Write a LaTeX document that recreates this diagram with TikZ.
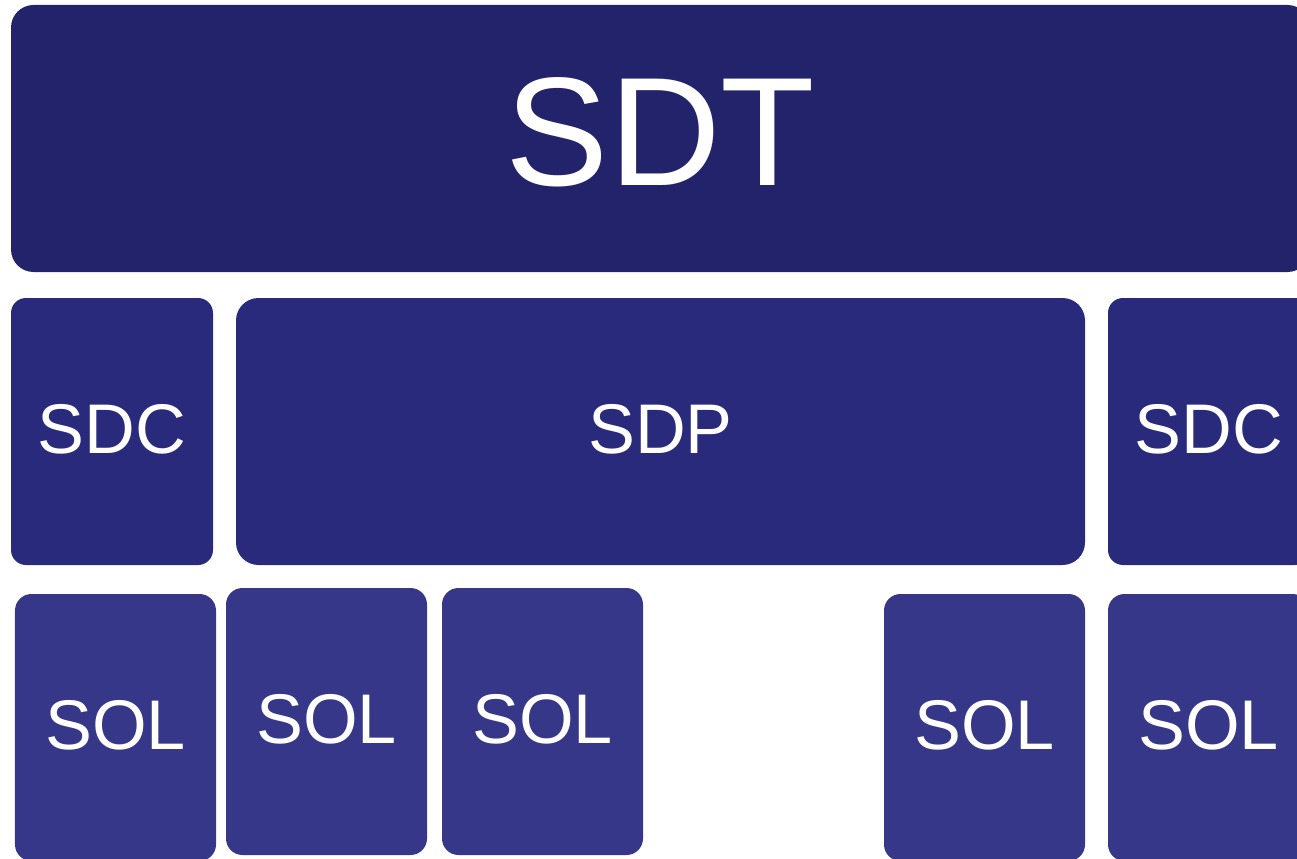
\documentclass[tikz,border=0pt]{standalone}
\usepackage{fontspec}
\setmainfont{Liberation Sans}
\usepackage{tikz}
\definecolor{sdtblue}{HTML}{23236B}
\definecolor{sdpblue}{HTML}{292A7C}
\definecolor{solblue}{HTML}{363789}
\tikzset{
    block/.style={rectangle, draw=none, text=white, inner sep=0pt},
    sdtbox/.style={block, fill=sdtblue, rounded corners=0.45cm, text depth=0.28cm,
                   font=\fontsize{88}{88}\selectfont},
    sdcbox/.style={block, fill=sdpblue, rounded corners=0.3cm, text depth=0.12cm,
                   font=\fontsize{40}{40}\selectfont},
    sdpbox/.style={block, fill=sdpblue, rounded corners=0.45cm, text depth=0.12cm,
                   font=\fontsize{40}{40}\selectfont},
    solbox/.style={block, fill=solblue, rounded corners=0.33cm, text depth=0.12cm,
                   font=\fontsize{40}{40}\selectfont, minimum width=4.02cm, minimum height=5.34cm}
}

\begin{document}
\begin{tikzpicture}
  \useasboundingbox (0,0) rectangle (25.94,17.16);
  \clip (0,0) rectangle (25.94,17.16);
  % top level
  \node [sdtbox, minimum width=25.98cm, minimum height=5.34cm] (sdt) at (13.21,14.39) {SDT};
  % middle level
  \node [sdcbox, minimum width=4.04cm, minimum height=5.34cm] (sdcl) at (2.24,8.53) {SDC};
  \node [sdpbox, minimum width=16.98cm, minimum height=5.34cm] (sdp) at (13.21,8.53) {SDP};
  \node [sdcbox, minimum width=4.04cm, minimum height=5.34cm] (sdcr) at (24.18,8.53) {SDC};
  % bottom level
  \node [solbox] (sol1) at (2.31,2.61) {SOL};
  \node [solbox] (sol2) at (6.53,2.73) {SOL};
  \node [solbox] (sol3) at (10.85,2.73) {SOL};
  \node [solbox] (sol4) at (19.69,2.61) {SOL};
  \node [solbox] (sol5) at (24.17,2.61) {SOL};
\end{tikzpicture}
\end{document}
